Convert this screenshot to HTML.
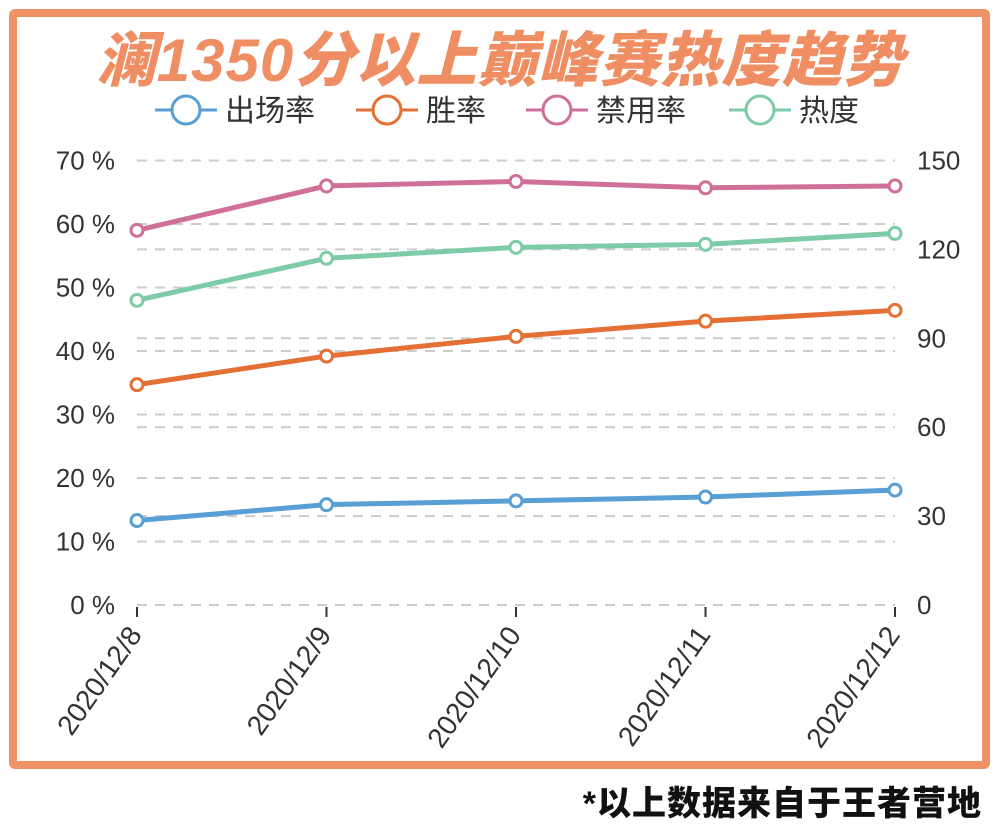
<!DOCTYPE html>
<html><head><meta charset="utf-8">
<style>
body{margin:0;background:#fff;width:1000px;height:818px;overflow:hidden;font-family:"Liberation Sans","Noto Sans CJK SC",sans-serif}
#frame{position:absolute;left:9px;top:9px;width:965px;height:744px;border:8px solid #f09166;border-radius:6px}
#title{position:absolute;left:0;width:1000px;top:12px;text-align:center;font-size:60px;font-weight:900;font-style:italic;color:#ef8e62;font-family:"Liberation Sans","Noto Sans CJK SC",sans-serif;letter-spacing:1px}
#foot{position:absolute;right:18px;top:776px;font-size:34px;font-weight:900;color:#111;font-family:"Liberation Sans","Noto Sans CJK SC",sans-serif;letter-spacing:1px}
svg{position:absolute;left:0;top:0}
</style></head><body>
<div id="frame"></div>
<div id="title">澜1350分以上巅峰赛热度趋势</div>
<div id="foot">*以上数据来自于王者营地</div>
<svg id="chart" width="1000" height="818"></svg>
<script>
const categories=["2020/12/8","2020/12/9","2020/12/10","2020/12/11","2020/12/12"];
const appearance=[13.3,15.8,16.4,17.0,18.1];
const winRate=[34.7,39.2,42.3,44.7,46.4];
const banRate=[59.0,66.0,66.7,65.7,66.0];
const heat=[102.8,117.0,120.7,121.7,125.4];
const leftTicks=[0,10,20,30,40,50,60,70];
const rightTicks=[0,30,60,90,120,150];
const svg=document.getElementById('chart');
const NS='http://www.w3.org/2000/svg';
const y0=605,y1=160.5,x0=137,x1=895;
const yL=v=>y0-(v/70)*(y0-y1);
const yR=v=>y0-(v/150)*(y0-y1);
const xS=i=>x0+i*(x1-x0)/(categories.length-1);
function mk(t,a){const e=document.createElementNS(NS,t);for(const k in a)e.setAttribute(k,a[k]);svg.appendChild(e);return e;}
leftTicks.forEach(v=>{
 const l=mk('line',{x1:x0,x2:x1,y1:yL(v),y2:yL(v),stroke:'#ccc','stroke-width':2,'stroke-dasharray':'10,8'});
 
 
 const t=mk('text',{x:115,y:yL(v)+9,'text-anchor':'end','font-size':26,fill:'#333'});
 t.textContent=v+' %';
 
 
});
rightTicks.forEach(v=>{
 const l=mk('line',{x1:x0,x2:x1,y1:yR(v),y2:yR(v),stroke:'#ccc','stroke-width':2,'stroke-dasharray':'10,8'});
 
 
 const t=mk('text',{x:917,y:yR(v)+9,'text-anchor':'start','font-size':26,fill:'#333'});
 t.textContent=v;
 
 
});
categories.forEach((c,i)=>{
 const x=xS(i);
 const tk=mk('line',{x1:x,x2:x,y1:y0+2,y2:y0+12,stroke:'#333','stroke-width':2});
 
 
 const t=mk('text',{x:x+6,y:y0+30,'text-anchor':'end','font-size':28,fill:'#333',transform:`rotate(-55 ${x+6} ${y0+30})`});
 t.textContent=c;
 
 
});
const series=[
 {name:'出场率',data:appearance,color:'#5a9fd4',sc:yL,id:'appearance'},
 {name:'胜率',data:winRate,color:'#e57036',sc:yL,id:'win-rate'},
 {name:'禁用率',data:banRate,color:'#d0709a',sc:yL,id:'ban-rate'},
 {name:'热度',data:heat,color:'#7ecba8',sc:yR,id:'heat'}];
series.forEach(s=>{
 const pts=s.data.map((v,i)=>xS(i)+','+s.sc(v)).join(' ');
 const p=mk('polyline',{points:pts,fill:'none',stroke:s.color,'stroke-width':5});
 
 
 s.data.forEach((v,i)=>{
  const c=mk('circle',{cx:xS(i),cy:s.sc(v),r:6,fill:'#fff',stroke:s.color,'stroke-width':3});
  
  
 });
});
const lx=[155,356,526,729];
series.forEach((s,i)=>{
 const g=lx[i];
 const l=mk('line',{x1:g,x2:g+62,y1:110,y2:110,stroke:s.color,'stroke-width':3});
 
 
 const c=mk('circle',{cx:g+31,cy:110,r:14,fill:'#fff',stroke:s.color,'stroke-width':3});
 
 
 const t=mk('text',{x:g+70,y:121,'font-size':30,fill:'#333'});
 t.textContent=s.name;
 
 
});
</script>
</body></html>
